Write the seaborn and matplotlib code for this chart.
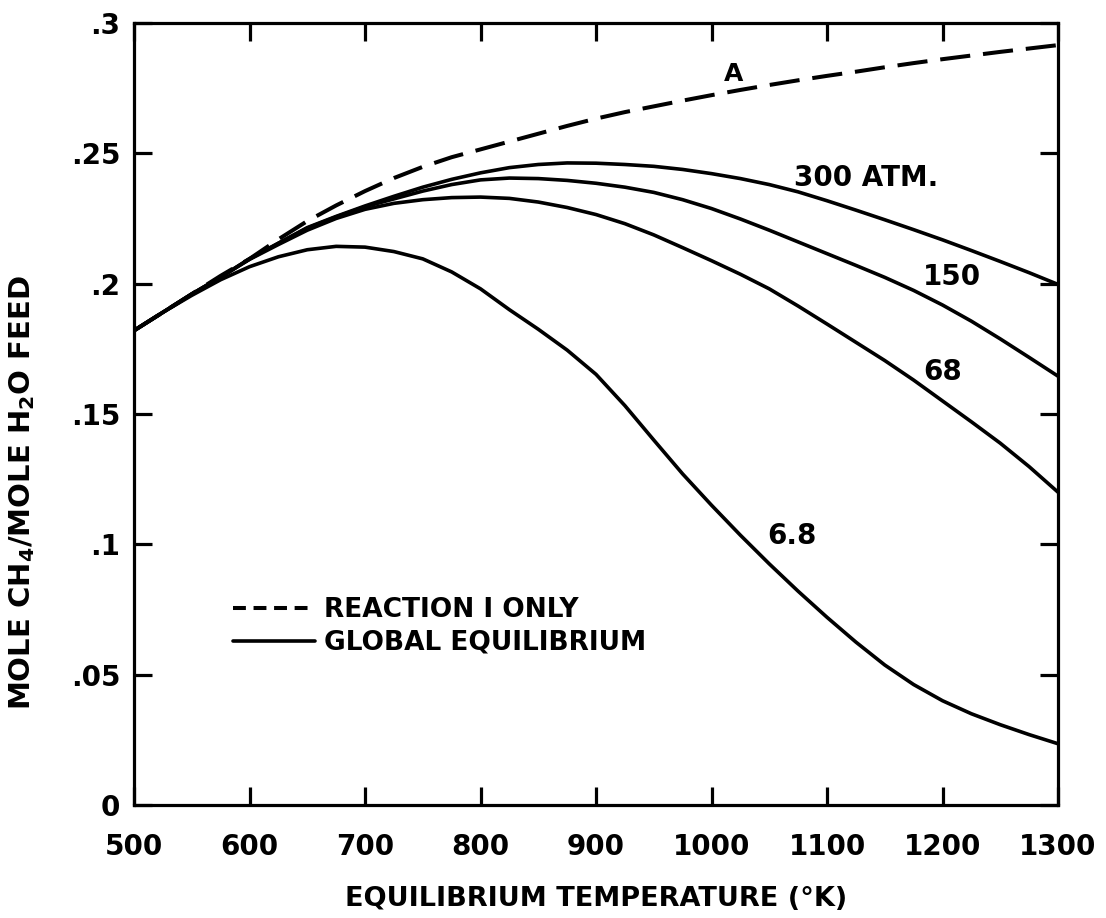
import matplotlib
matplotlib.use("Agg")
import matplotlib.pyplot as plt
from matplotlib.lines import Line2D
import seaborn as sns
import pandas as pd

# ---- data ----
temperature = [500, 525, 550, 575, 600, 625, 650, 675, 700, 725, 750, 775, 800,
               825, 850, 875, 900, 925, 950, 975, 1000, 1025, 1050, 1075, 1100,
               1125, 1150, 1175, 1200, 1225, 1250, 1275, 1300]

reaction_i_only = [0.182, 0.189, 0.196, 0.203, 0.2095, 0.2170, 0.2240, 0.2300, 0.2355,
                   0.2405, 0.2448, 0.2485, 0.2515, 0.2545, 0.2575, 0.2605, 0.2633,
                   0.2658, 0.2680, 0.2702, 0.2723, 0.2743, 0.2762, 0.2780, 0.2797,
                   0.2813, 0.2830, 0.2846, 0.2861, 0.2875, 0.2889, 0.2902, 0.2915]

p300 = [0.182, 0.189, 0.196, 0.2025, 0.2095, 0.2155, 0.2215, 0.2258, 0.2298, 0.2335,
        0.2370, 0.2400, 0.2425, 0.2445, 0.2457, 0.2463, 0.2462, 0.2457, 0.2450, 0.2438,
        0.2422, 0.2403, 0.2380, 0.2352, 0.2318, 0.2282, 0.2245, 0.2207, 0.2168, 0.2127,
        0.2085, 0.2042, 0.1997]

p150 = [0.182, 0.189, 0.196, 0.2025, 0.2095, 0.2155, 0.2213, 0.2256, 0.2295, 0.2325,
        0.2355, 0.2380, 0.2398, 0.2405, 0.2403, 0.2396, 0.2385, 0.2370, 0.2350, 0.2322,
        0.2288, 0.2248, 0.2205, 0.2160, 0.2115, 0.2070, 0.2024, 0.1974, 0.1918, 0.1856,
        0.1788, 0.1717, 0.1645]

p68 = [0.182, 0.189, 0.196, 0.2025, 0.2093, 0.2150, 0.2205, 0.2250, 0.2285, 0.2308,
       0.2322, 0.2330, 0.2332, 0.2327, 0.2313, 0.2292, 0.2265, 0.2230, 0.2187, 0.2138,
       0.2088, 0.2036, 0.1980, 0.1914, 0.1845, 0.1775, 0.1705, 0.1630, 0.1550, 0.1470,
       0.1388, 0.1298, 0.1200]

p6_8 = [0.182, 0.189, 0.1955, 0.2015, 0.2065, 0.2103, 0.2130, 0.2143, 0.2140, 0.2123,
        0.2095, 0.2045, 0.1980, 0.1900, 0.1825, 0.1745, 0.1652, 0.1532, 0.1400, 0.1270,
        0.1150, 0.1035, 0.0925, 0.0820, 0.0720, 0.0625, 0.0537, 0.0462, 0.0400, 0.0350,
        0.0308, 0.0270, 0.0235]

x_ticks = [500, 600, 700, 800, 900, 1000, 1100, 1200, 1300]
y_ticks = [0, 0.05, 0.1, 0.15, 0.2, 0.25, 0.3]
y_tick_labels = ["0", ".05", ".1", ".15", ".2", ".25", ".3"]

curve_labels = ["A", "300 ATM.", "150", "68", "6.8"]
curve_label_x = [1019, 1134, 1208, 1200, 1070]
curve_label_y = [0.2804, 0.2405, 0.2025, 0.1660, 0.1032]

legend_labels = ["REACTION I ONLY", "GLOBAL EQUILIBRIUM"]

# ---- style ----
sns.set_theme(style="ticks")
plt.rcParams["font.family"] = ["DejaVu Sans"]
plt.rcParams["font.weight"] = "bold"
plt.rcParams["mathtext.default"] = "bf"
plt.rcParams["text.color"] = "black"
plt.rcParams["axes.labelcolor"] = "black"

fig = plt.figure(figsize=(11.06, 9.18), dpi=100)
ax = fig.add_axes([0.1212, 0.1231, 0.8354, 0.8519])

lw = 2.6
df = pd.DataFrame({"T": temperature, "A": reaction_i_only, "300": p300,
                   "150": p150, "68": p68, "6.8": p6_8})

sns.lineplot(data=df, x="T", y="A", ax=ax, color="black", lw=2.9,
             linestyle=(0, (7.5, 3.2)))
for col in ["300", "150", "68", "6.8"]:
    sns.lineplot(data=df, x="T", y=col, ax=ax, color="black", lw=lw)

ax.set_xlim(500, 1300)
ax.set_ylim(0, 0.3)
ax.set_xticks(x_ticks)
ax.set_xticklabels([str(t) for t in x_ticks])
ax.set_yticks(y_ticks)
ax.set_yticklabels(y_tick_labels)

for s in ax.spines.values():
    s.set_linewidth(2.3)
    s.set_color("black")

ax.tick_params(axis="both", which="major", direction="in", length=13, width=2.3,
               top=True, right=True, labelsize=20, colors="black")
ax.tick_params(axis="x", pad=20)
ax.tick_params(axis="y", pad=10)

for lab in ax.get_xticklabels() + ax.get_yticklabels():
    lab.set_fontweight("bold")

ax.set_xlabel("EQUILIBRIUM TEMPERATURE (°K)", fontsize=19.5, fontweight="bold",
              labelpad=18, color="black")
ax.set_ylabel("MOLE CH$_4$/MOLE H$_2$O FEED", fontsize=21, fontweight="bold",
              color="black")
ax.yaxis.set_label_coords(-0.105, 0.40)

for txt, xx, yy in zip(curve_labels, curve_label_x, curve_label_y):
    ax.text(xx, yy, txt, fontsize=20 if txt != "A" else 18, fontweight="bold",
            ha="center", va="center", color="black")

handles = [Line2D([], [], color="black", lw=2.9, linestyle=(0, (3.2, 1.9))),
           Line2D([], [], color="black", lw=2.6)]
leg = ax.legend(handles=handles, labels=legend_labels, loc="center left",
                bbox_to_anchor=(0.107, 0.228), frameon=False, fontsize=19,
                handlelength=3.1, handletextpad=0.35, labelspacing=0.25,
                borderpad=0, borderaxespad=0)
for t in leg.get_texts():
    t.set_fontweight("bold")
    t.set_color("black")

fig.savefig("out.png", dpi=100)
